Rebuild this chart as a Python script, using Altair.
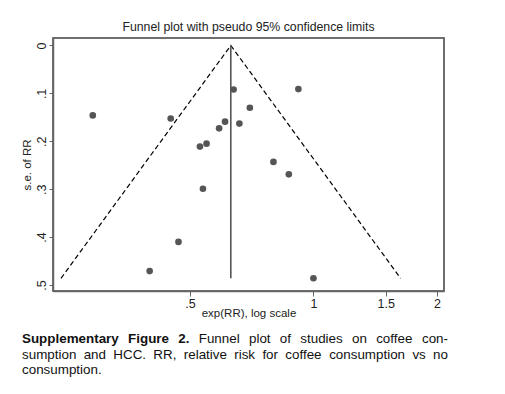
import math
import altair as alt
import pandas as pd

# ---- data ----
rr = [0.290, 0.449, 0.639, 0.919, 0.700, 0.609, 0.660, 0.589,
      0.529, 0.549, 0.799, 0.871, 0.538, 0.469, 0.399, 1.000]
se = [0.146, 0.1525, 0.092, 0.091, 0.130, 0.159, 0.163, 0.173,
      0.211, 0.205, 0.243, 0.269, 0.299, 0.410, 0.471, 0.486]
pooled_rr = 0.629
max_se = 0.486
x_ticks = [0.5, 1, 1.5, 2]
y_ticks = [0, 0.1, 0.2, 0.3, 0.4, 0.5]
title_text = "Funnel plot with pseudo 95% confidence limits"
x_title = "exp(RR), log scale"
y_title = "s.e. of RR"
caption = [
    [("Supplementary", True), ("Figure", True), ("2.", True), ("Funnel", False),
     ("plot", False), ("of", False), ("studies", False), ("on", False),
     ("coffee", False), ("con-", False)],
    [("sumption", False), ("and", False), ("HCC.", False), ("RR,", False),
     ("relative", False), ("risk", False), ("for", False), ("coffee", False),
     ("consumption", False), ("vs", False), ("no", False)],
    [("consumption.", False)],
]

X_DOM = [0.232, 2.08]
Y_DOM = [-0.0156, 0.5125]

pts = pd.DataFrame({"rr": rr, "se": se})
lo = math.exp(math.log(pooled_rr) - 1.96 * max_se)
hi = math.exp(math.log(pooled_rr) + 1.96 * max_se)
funnel = pd.DataFrame({"rr": [lo, pooled_rr, hi], "se": [max_se, 0, max_se]})
center = pd.DataFrame({"rr": [pooled_rr], "se": [0], "se2": [max_se]})
box = pd.DataFrame({"x1": [X_DOM[0]], "x2": [X_DOM[1]],
                    "y1": [Y_DOM[0]], "y2": [Y_DOM[1]]})

FONT = "Liberation Sans"
CAP_SIZE = 13.4
W, H = 391, 253
FRAME = "#666666"

# Arial / Liberation Sans advance widths (per 1000 em) for justification
REG = {" ": 278, ".": 278, ",": 278, "-": 333, "C": 722, "H": 722, "R": 722,
       "F": 611, "S": 667, "2": 556,
       "a": 556, "c": 500, "d": 556, "e": 556, "f": 278, "g": 556, "i": 222,
       "k": 500, "l": 222, "m": 833, "n": 556, "o": 556, "p": 556, "r": 333,
       "s": 500, "t": 278, "u": 556, "v": 500, "y": 500}
BOLD = {" ": 278, ".": 278, "2": 556, "F": 611, "S": 667,
        "a": 556, "e": 556, "g": 611, "i": 278, "l": 278, "m": 889,
        "n": 611, "p": 611, "r": 389, "t": 333, "u": 611, "y": 556}


def width(word, bold):
    table = BOLD if bold else REG
    return sum(table.get(ch, 556) for ch in word) * CAP_SIZE / 1000.0


LEFT_ABS, RIGHT_ABS = 22.0, 448.0
ORIGIN_X, ORIGIN_Y = 53.0, 38.0
baselines_abs = [343.0, 358.5, 374.0]

xscale = alt.Scale(type="log", domain=X_DOM, nice=False)
yscale = alt.Scale(domain=Y_DOM, reverse=True, nice=False, zero=False)

xaxis = alt.Axis(values=x_ticks, title=x_title, grid=False, domain=True,
                 domainColor=FRAME, domainWidth=1.5,
                 labelExpr="datum.value == 0.5 ? '.5' : toString(datum.value)",
                 tickSize=5, tickColor=FRAME, labelFontSize=12.5,
                 labelPadding=1, titleFontSize=11.5, titleFontWeight="normal",
                 titlePadding=-2, labelFont=FONT, titleFont=FONT,
                 labelColor="#222", titleColor="#222")
yaxis = alt.Axis(values=y_ticks, title=y_title, grid=False, domain=True,
                 domainColor=FRAME, domainWidth=1.5,
                 labelExpr="datum.value == 0 ? '0' : '.' + round(datum.value*10)",
                 tickSize=4, tickColor=FRAME, labelFontSize=12.5,
                 labelAngle=270, labelAlign="center", labelBaseline="bottom",
                 labelPadding=1, titleFontSize=11.5, titleFontWeight="normal",
                 titlePadding=3, labelFont=FONT, titleFont=FONT,
                 labelColor="#222", titleColor="#222")

frame = alt.Chart(box).mark_rect(fillOpacity=0, stroke=FRAME,
                                 strokeWidth=1.5, strokeOpacity=1).encode(
    x="x1:Q", x2="x2:Q", y="y1:Q", y2="y2:Q")

lines = alt.Chart(funnel).mark_line(color="black", strokeWidth=1.2,
                                    strokeDash=[5, 3]).encode(
    x=alt.X("rr:Q", scale=xscale, axis=xaxis),
    y=alt.Y("se:Q", scale=yscale, axis=yaxis),
    order=alt.Order("rr:Q"))

rule = alt.Chart(center).mark_rule(color="#555555", strokeWidth=1.6).encode(
    x="rr:Q", y="se:Q", y2="se2:Q")

points = alt.Chart(pts).mark_circle(color="#555555", opacity=1, size=44).encode(
    x="rr:Q", y="se:Q")

layers = [lines, frame, rule, points]
for li, words in enumerate(caption):
    widths = [width(w, b) for w, b in words]
    if li < len(caption) - 1 and len(words) > 1:
        gap = (RIGHT_ABS - LEFT_ABS - sum(widths)) / (len(words) - 1)
    else:
        gap = width(" ", False)
    xpos = LEFT_ABS
    for (w, b), wd in zip(words, widths):
        layers.append(
            alt.Chart(pd.DataFrame({"t": [w]})).mark_text(
                font=FONT, fontSize=CAP_SIZE,
                fontWeight="bold" if b else "normal",
                align="left", baseline="alphabetic", color="#111").encode(
                text="t:N",
                x=alt.value(xpos - ORIGIN_X),
                y=alt.value(baselines_abs[li] - ORIGIN_Y)))
        xpos += wd + gap

chart = alt.layer(*layers).properties(
    width=W, height=H,
    title=alt.TitleParams(title_text, font=FONT, fontSize=12.3,
                          fontWeight="normal", anchor="middle", offset=4,
                          color="#222"),
    autosize=alt.AutoSizeParams(type="none"),
    padding={"left": 45, "top": 30, "right": 53, "bottom": 95},
).configure(background="white").configure_view(stroke=FRAME, strokeWidth=1.5)

chart.save("out.html", embed_options={"renderer": "svg", "actions": False})
